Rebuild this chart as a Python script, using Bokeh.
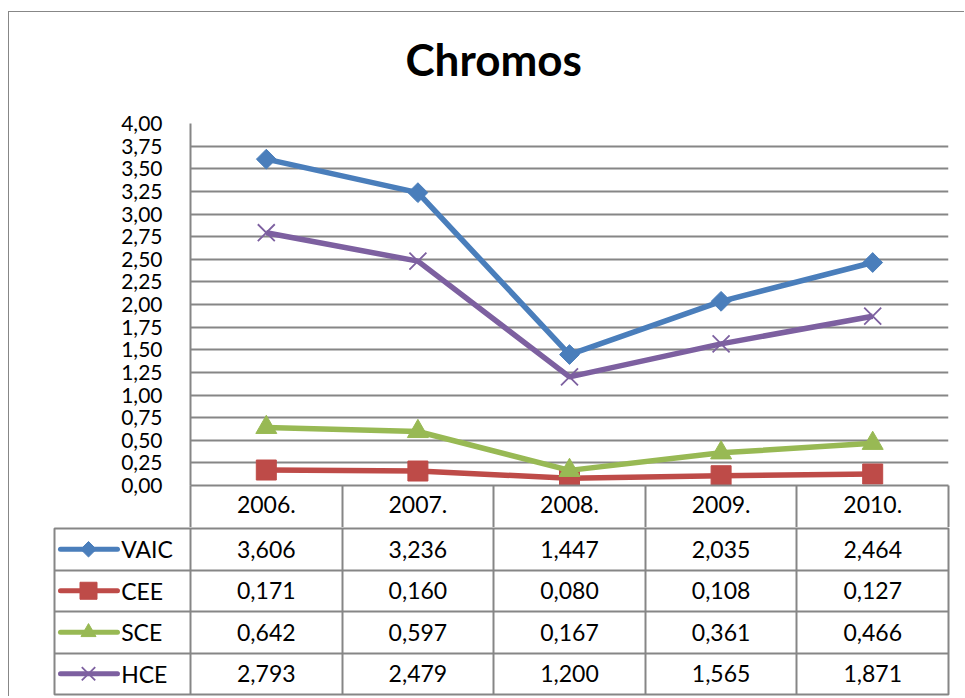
import numpy as np
from bokeh.plotting import figure
from bokeh.models import Range1d, FixedTicker, Title
from bokeh.layouts import column
from bokeh.embed import file_html
from bokeh.resources import INLINE
from bokeh.core.properties import value

# ---- data ----
title_text = "Chromos"
years = ["2006.", "2007.", "2008.", "2009.", "2010."]
series_names = ["VAIC", "CEE", "SCE", "HCE"]
vaic = [3.606, 3.236, 1.447, 2.035, 2.464]
cee = [0.171, 0.160, 0.080, 0.108, 0.127]
sce = [0.642, 0.597, 0.167, 0.361, 0.466]
hce = [2.793, 2.479, 1.200, 1.565, 1.871]
y_ticks = [0.0, 0.25, 0.5, 0.75, 1.0, 1.25, 1.5, 1.75, 2.0, 2.25, 2.5, 2.75,
           3.0, 3.25, 3.5, 3.75, 4.0]
all_series = [vaic, cee, sce, hce]

# ---- style ----
FONT = "Lato"
GRID = "#868686"
colors = ["#4A7EBB", "#BE4B48", "#98B954", "#7D60A0"]
markers = ["square", "square", "triangle", "x"]
angles = [np.pi / 4, 0, 0, 0]
msizes = [14, 20, 21, 24]
lg_sizes = [11, 17, 15, 19]

n = len(years)
xs = [i + 0.5 for i in range(n)]

# ---- chart figure ----
pa = figure(width=955, height=515, x_range=Range1d(0, n), y_range=Range1d(0, 4),
            output_backend="svg", toolbar_location=None, title=None,
            min_border_left=181, min_border_right=16, min_border_top=111,
            min_border_bottom=42)
pa.frame_align = False
pa.outline_line_color = None
pa.background_fill_color = "white"
pa.border_fill_color = "white"

# spacer (closest to the frame) then the real title above it
pa.add_layout(Title(text=" ", text_font_size="1px", standoff=31), "above")
pa.add_layout(Title(text=title_text, text_font=FONT, text_font_style="bold",
                    text_font_size="44px", text_color="black", align="left",
                    offset=215, standoff=10), "above")

pa.xgrid.visible = False
pa.ygrid.ticker = FixedTicker(ticks=y_ticks)
pa.ygrid.grid_line_color = GRID
pa.ygrid.grid_line_width = 2

ya = pa.yaxis[0]
ya.ticker = FixedTicker(ticks=y_ticks)
ya.major_label_overrides = {t: f"{t:.2f}".replace(".", ",") for t in y_ticks}
ya.major_tick_out = 0
ya.major_tick_in = 0
ya.minor_tick_line_color = None
ya.axis_line_color = GRID
ya.axis_line_width = 2
ya.major_label_standoff = 28
ya.major_label_text_font = FONT
ya.major_label_text_font_size = "21px"
ya.major_label_text_color = "black"

xa = pa.xaxis[0]
xa.ticker = FixedTicker(ticks=xs, minor_ticks=list(range(n + 1)))
xa.major_label_overrides = {x: y for x, y in zip(xs, years)}
xa.major_tick_line_color = None
xa.major_tick_out = 0
xa.major_tick_in = 0
xa.minor_tick_out = 42
xa.minor_tick_in = 0
xa.minor_tick_line_color = GRID
xa.minor_tick_line_width = 2
xa.axis_line_color = GRID
xa.axis_line_width = 2
xa.major_label_standoff = -32
xa.major_label_text_font = FONT
xa.major_label_text_font_size = "23px"
xa.major_label_text_color = "black"

for vals, c, m, a, s in zip(all_series, colors, markers, angles, msizes):
    pa.line(xs, vals, line_color=c, line_width=5.5)
    if m == "x":
        pa.scatter(xs, vals, marker=m, size=s, line_color=c, line_width=1.8)
    else:
        pa.scatter(xs, vals, marker=m, size=s, angle=a, fill_color=c, line_color=c)

# ---- table figure ----
legend_w = 136 / 151.6
pb = figure(width=955, height=169, x_range=Range1d(-legend_w, n),
            y_range=Range1d(0, len(series_names)),
            x_axis_location=None, y_axis_location=None,
            output_backend="svg", toolbar_location=None,
            min_border_left=45, min_border_right=16, min_border_top=1,
            min_border_bottom=2)
pb.frame_align = False
pb.outline_line_color = GRID
pb.outline_line_width = 2
pb.border_fill_color = "white"
pb.xgrid.ticker = FixedTicker(ticks=list(range(n)))
pb.xgrid.grid_line_color = GRID
pb.xgrid.grid_line_width = 2
pb.ygrid.ticker = FixedTicker(ticks=list(range(1, len(series_names))))
pb.ygrid.grid_line_color = GRID
pb.ygrid.grid_line_width = 2

tx, ty, tt = [], [], []
for r, vals in enumerate(all_series):
    row_y = len(series_names) - r - 0.5
    for x, v in zip(xs, vals):
        tx.append(x)
        ty.append(row_y)
        tt.append(f"{v:.3f}".replace(".", ","))
pb.text(x=tx, y=ty, text=tt, text_align="center", text_baseline="middle",
        text_font=value(FONT), text_font_size="23px", text_color="black")

# legend keys in the first column
lx0 = -legend_w + 0.044 * legend_w
lx1 = -legend_w + 0.463 * legend_w
lxm = -legend_w + 0.25 * legend_w
ltx = -legend_w + 0.49 * legend_w
for r, (name, c, m, a, s) in enumerate(zip(series_names, colors, markers, angles, lg_sizes)):
    row_y = len(series_names) - r - 0.5
    pb.line([lx0, lx1], [row_y, row_y], line_color=c, line_width=5, line_cap="round")
    if m == "x":
        pb.scatter([lxm], [row_y], marker=m, size=s, line_color=c, line_width=1.8)
    else:
        pb.scatter([lxm], [row_y], marker=m, size=s, angle=a, fill_color=c, line_color=c)
    pb.text(x=[ltx], y=[row_y], text=[name], text_align="left", text_baseline="middle",
            text_font=value(FONT), text_font_size="23px", text_color="black")

layout = column(pa, pb, spacing=0,
                styles={"border-top": "1px solid #878787",
                        "border-left": "1px solid #878787",
                        "margin-top": "11px",
                        "margin-left": "8px"})

with open("out.html", "w") as f:
    f.write(file_html(layout, INLINE))
